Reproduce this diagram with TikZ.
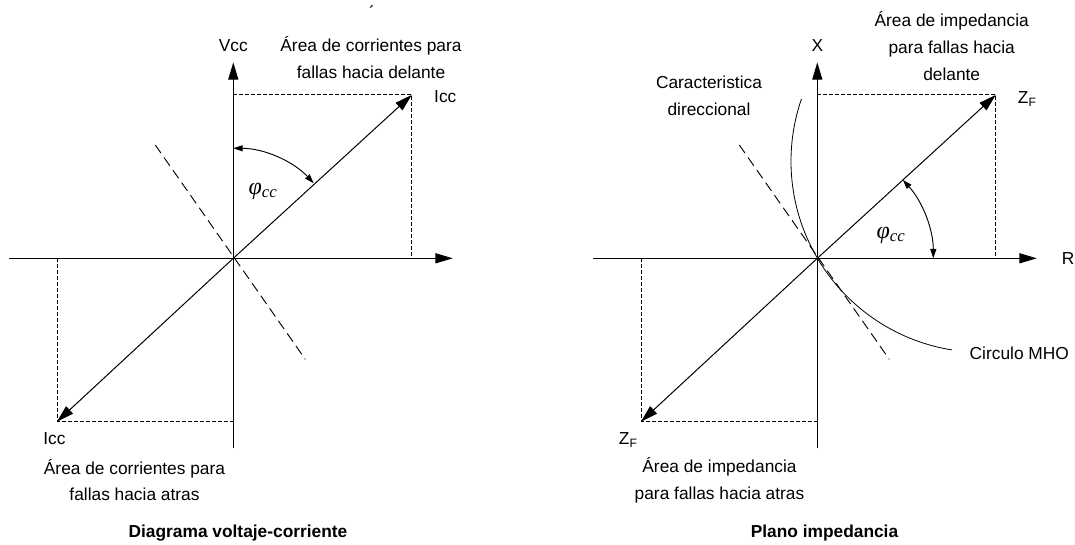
\documentclass[tikz,border=0pt]{standalone}
\usepackage{fontspec}
\setmainfont{Liberation Sans}
\newfontfamily\greekfont{Liberation Serif}
\usetikzlibrary{arrows.meta,calc,positioning}
\tikzset{>={Triangle[length=13pt,width=7.5pt]},line width=.8pt,
  every node/.style={font=\fontsize{13}{20}\selectfont,align=center,inner sep=0pt},
  axis/.style={->,line width=.9pt},
  vec/.style={->,line width=.75pt},
  guide/.style={dash pattern=on 3pt off 1.5pt,line width=.6pt},
  dirline/.style={dash pattern=on 7.5pt off 4pt,line width=.7pt},
  anglearc/.style={{Triangle[length=7pt,width=4.5pt]}-{Triangle[length=7pt,width=4.5pt]},line width=.7pt},
  mathlabel/.style={font=\fontsize{18}{22}\selectfont\greekfont\itshape},
  title/.style={font=\fontsize{13}{16}\selectfont\bfseries}}
\begin{document}
\begin{tikzpicture}[x=.75pt,y=.75pt]
\useasboundingbox(0,0)rectangle(1075,544);
\coordinate(o1)at(233.3,285.7);\coordinate(o2)at(817.3,285.7);
% both planes share axes, vectors, boxes and the directional line
\foreach \o in {1,2}{
  \coordinate(top\o)at($(o\o)+(0,196)$);\coordinate(bot\o)at($(o\o)+(0,-190)$);
  \coordinate(west\o)at($(o\o)+(-224,0)$);\coordinate(east\o)at($(o\o)+(219.5,0)$);
  \coordinate(fwd\o)at($(o\o)+(178.5,163.4)$);\coordinate(back\o)at($(o\o)+(-176.4,-163.4)$);
  \coordinate(dira\o)at($(o\o)+(-78,113.3)$);\coordinate(dirb\o)at($(o\o)+(72,-101)$);
  \draw[axis](bot\o)--(top\o);\draw[axis](west\o)--(east\o);
  \draw[guide](top\o|-fwd\o)--(fwd\o)--(fwd\o|-o\o);
  \draw[guide](back\o|-o\o)--(back\o)--(bot\o|-back\o);
  \draw[vec](o\o)--(fwd\o);\draw[vec](o\o)--(back\o);
  \draw[dirline](dira\o)--(dirb\o);}
% angle arcs and mho circle
\draw[anglearc]($(o1)+(90:82.5pt)$)arc[start angle=90,end angle=43,radius=82.5pt];
\draw[anglearc]($(o2)+(0:87pt)$)arc[start angle=0,end angle=42.5,radius=87pt];
\draw[line width=.6pt]($(o2)+(164.7,97)+(161:143.25pt)$)arc[start angle=161,end angle=261,radius=143.25pt];
% voltage-current diagram
\node(vcc)at($(o1)+(0,213)$){Vcc};
\node(fwdarea1)at($(o1)+(137.7,200.8)$){Área de corrientes para\\fallas hacia delante};
\node(iccf)at($(o1)+(212,161.6)$){Icc};
\node(iccb)[anchor=west]at($(o1)+(-190.3,-180)$){Icc};
\node(backarea1)at($(o1)+(-98.8,-221.7)$){Área de corrientes para\\fallas hacia atras};
\node(phi1)[mathlabel]at($(o1)+(29.7,67)$){φ\textsubscript{cc}};
\node(title1)[title]at($(o1)+(4.7,-275)$){Diagrama voltaje-corriente};
\node(accent)at(372,532){´};
% impedance plane
\node(xlab)at($(o2)+(0,213)$){X};
\node(rlab)at($(o2)+(250.7,0)$){R};
\node(fwdarea2)at($(o2)+(134.4,212.3)$){Área de impedancia\\para fallas hacia\\delante};
\node(zff)at($(o2)+(210,159)$){Z\textsubscript{F}};
\node(zfb)at($(o2)+(-189,-182)$){Z\textsubscript{F}};
\node(dirlab)at($(o2)+(-108.3,162.8)$){Caracteristica\\direccional};
\node(mho)at($(o2)+(202,-95)$){Circulo MHO};
\node(backarea2)at($(o2)+(-97.8,-221.7)$){Área de impedancia\\para fallas hacia atras};
\node(phi2)[mathlabel]at($(o2)+(73.7,23.3)$){φ\textsubscript{cc}};
\node(title2)[title]at($(o2)+(7.2,-275)$){Plano impedancia};
\end{tikzpicture}
\end{document}
